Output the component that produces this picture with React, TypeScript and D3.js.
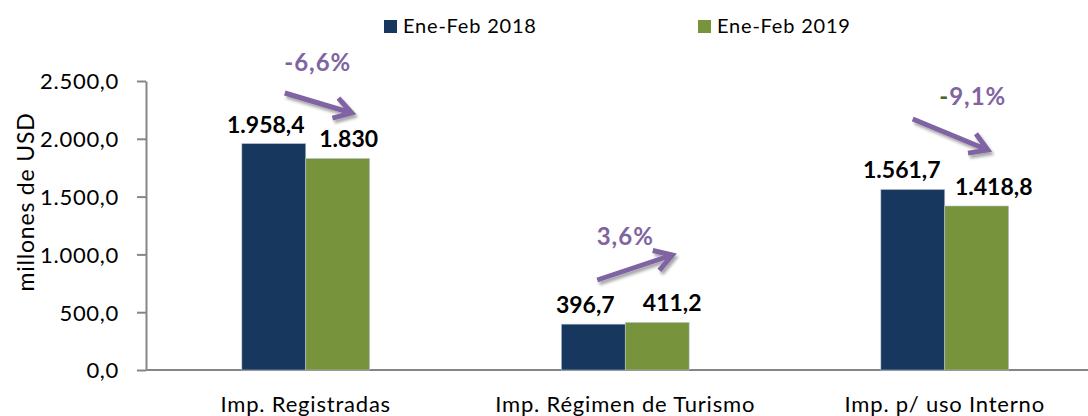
import * as d3 from "d3";
import React, { useEffect, useRef } from "react";

const categories = ["Imp. Registradas", "Imp. Régimen de Turismo", "Imp. p/ uso Interno"];
const series = ["Ene-Feb 2018", "Ene-Feb 2019"];
const values2018 = [1958.4, 396.7, 1561.7];
const values2019 = [1830, 411.2, 1418.8];
const valueLabels2018 = ["1.958,4", "396,7", "1.561,7"];
const valueLabels2019 = ["1.830", "411,2", "1.418,8"];
const changeLabels = ["-6,6%", "3,6%", "-9,1%"];
const yTicks = [0, 500, 1000, 1500, 2000, 2500];

const W = 1088;
const H = 416;
const FONT = "Lato, 'Noto Sans', sans-serif";
const colors = ["#17375E", "#77933C"];
const purple = "#8064A2";
// horizontal nudges of the value labels (blue, green) per group
const labelNudge = [[-8, 11], [-8, 15], [-11, 17]];

// "2.500,0" style
const fmtTick = (v: number) => {
  const s = d3.format(",.1f")(v);
  return s.replace(/,/g, "#").replace(".", ",").replace(/#/g, ".");
};

const App = () => {
  const svgRef = useRef<SVGSVGElement>(null);

  useEffect(() => {
    const svgEl = d3.select(svgRef.current);
    svgEl.selectAll("*").remove();

    const left = 146;
    const right = 1104.5;
    const top = 81;
    const bottom = 370;

    const x0 = d3.scaleBand().domain(categories).range([left, right]);
    const groupW = x0.bandwidth() * 0.4;
    const x1 = d3.scaleBand().domain(series).range([0, groupW]);
    const y = d3.scaleLinear().domain([0, 2500]).range([bottom, top]);
    const center = (c: string) => (x0(c) as number) + x0.bandwidth() / 2;

    const defs = svgEl.append("defs");
    const f = defs.append("filter").attr("id", "shadow").attr("x", "-20%").attr("y", "-50%").attr("width", "140%").attr("height", "200%");
    f.append("feDropShadow").attr("dx", 2).attr("dy", 3).attr("stdDeviation", 1.5).attr("flood-color", "#000").attr("flood-opacity", 0.35);

    const svg = svgEl.append("g");

    // y axis
    const yAxis = svg.append("g").attr("transform", "translate(" + left + ",0)")
      .call(d3.axisLeft(y).tickValues(yTicks).tickSize(9).tickSizeOuter(0).tickFormat((d) => fmtTick(d as number)));
    yAxis.select(".domain").attr("stroke", "#868686").attr("stroke-width", 2);
    yAxis.selectAll(".tick line").attr("stroke", "#868686").attr("stroke-width", 2);
    yAxis.selectAll(".tick text").attr("font-family", FONT).attr("font-size", 22).attr("letter-spacing", 0.7)
      .attr("fill", "#000").attr("x", -27).attr("dy", "0.36em");

    // x axis line
    svg.append("line").attr("x1", left).attr("x2", W).attr("y1", bottom).attr("y2", bottom)
      .attr("stroke", "#868686").attr("stroke-width", 2);

    // bars
    const data = categories.map((c, i) => ({ c, vals: [values2018[i], values2019[i]] }));
    const groups = svg.selectAll(".grp").data(data).enter().append("g")
      .attr("transform", (d) => "translate(" + (center(d.c) - groupW / 2) + ",0)");
    groups.selectAll("rect").data((d) => d.vals.map((v, j) => ({ v, s: series[j], j }))).enter().append("rect")
      .attr("x", (d) => x1(d.s) as number)
      .attr("y", (d) => y(d.v))
      .attr("width", x1.bandwidth())
      .attr("height", (d) => bottom - y(d.v))
      .attr("fill", (d) => colors[d.j])
      .attr("stroke", "#b8c4d4")
      .attr("stroke-width", 0.6);

    // value labels
    categories.forEach((c, i) => {
      const gx = center(c) - groupW / 2;
      [valueLabels2018[i], valueLabels2019[i]].forEach((lab, j) => {
        const v = j === 0 ? values2018[i] : values2019[i];
        svg.append("text")
          .attr("x", gx + (x1(series[j]) as number) + x1.bandwidth() / 2 + labelNudge[i][j])
          .attr("y", y(v) - 11)
          .attr("text-anchor", "middle")
          .attr("font-family", FONT).attr("font-weight", 700).attr("font-size", 23)
          .attr("fill", "#000")
          .text(lab);
      });
    });

    // change arrows (offsets relative to category centre)
    const arrows = [
      { c: categories[0], x1: -21, y1: 93, x2: 46, y2: 113, lx: 12, ly: 71 },
      { c: categories[1], x1: -28, y1: 280, x2: 47, y2: 255, lx: 0, ly: 245 },
      { c: categories[2], x1: -32, y1: 119, x2: 43, y2: 150, lx: 28, ly: 105 },
    ];
    arrows.forEach((a, i) => {
      const cx = center(a.c);
      const xs = cx + a.x1, xe = cx + a.x2;
      const ang = Math.atan2(a.y2 - a.y1, xe - xs);
      const hl = 20, ha = 0.55;
      const p = d3.path();
      p.moveTo(xs, a.y1);
      p.lineTo(xe, a.y2);
      p.moveTo(xe - hl * Math.cos(ang - ha), a.y2 - hl * Math.sin(ang - ha));
      p.lineTo(xe, a.y2);
      p.lineTo(xe - hl * Math.cos(ang + ha), a.y2 - hl * Math.sin(ang + ha));
      svg.append("path").attr("d", p.toString()).attr("fill", "none")
        .attr("stroke", purple).attr("stroke-width", 5).attr("stroke-linejoin", "miter")
        .attr("filter", "url(#shadow)");

      const t = svg.append("text").attr("x", cx + a.lx).attr("y", a.ly).attr("text-anchor", "middle")
        .attr("font-family", FONT).attr("font-weight", 700).attr("font-size", 24).attr("letter-spacing", 1).attr("fill", purple);
      const lab = changeLabels[i];
      if (i === 2) {
        t.append("tspan").attr("fill", "#4F6228").text(lab.slice(0, 1));
        t.append("tspan").text(lab.slice(1));
      } else {
        t.text(lab);
      }
    });

    // category labels
    svg.selectAll(".cat").data(categories).enter().append("text")
      .attr("x", (d) => center(d)).attr("y", 412).attr("text-anchor", "middle")
      .attr("font-family", FONT).attr("font-size", 22).attr("letter-spacing", 0.8).attr("fill", "#000")
      .text((d) => d);

    // y title
    svg.append("text").attr("transform", "translate(34,202) rotate(-90)").attr("text-anchor", "middle")
      .attr("font-family", FONT).attr("font-size", 23).attr("letter-spacing", 0.8).attr("fill", "#000")
      .text("millones de USD");

    // legend
    const legX = [384, 698];
    series.forEach((s, i) => {
      svg.append("rect").attr("x", legX[i]).attr("y", 20).attr("width", 13).attr("height", 13).attr("fill", colors[i]);
      svg.append("text").attr("x", legX[i] + 19).attr("y", 33)
        .attr("font-family", FONT).attr("font-size", 20).attr("letter-spacing", 0.8).attr("fill", "#000").text(s);
    });
  }, []);

  return (
    <svg ref={svgRef} width={W} height={H} viewBox={"0 0 " + W + " " + H}
      style={{ position: "absolute", left: 0, top: 0, background: "#fff" }} />
  );
};

export default App;
